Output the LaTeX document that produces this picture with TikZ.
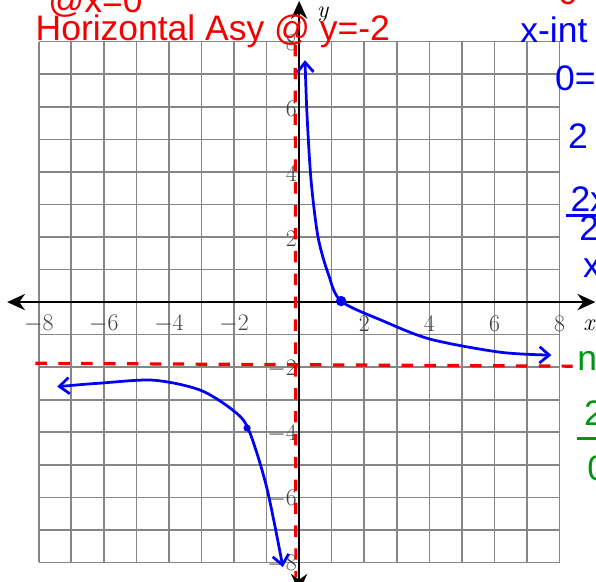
\documentclass[tikz,border=0pt]{standalone}
\usepackage{fontspec}
\usetikzlibrary{arrows.meta, positioning}
\newfontfamily\hand{Liberation Sans}
\definecolor{tinta}{RGB}{0,0,245}
\definecolor{marca}{RGB}{245,0,0}
\definecolor{verde}{RGB}{0,150,20}
\tikzset{
  rejilla/.style={gray!95, line width=1.4pt},
  eje/.style={{Stealth[length=5.5mm, width=5mm]}-{Stealth[length=5.5mm, width=5mm]}, line width=1.7pt},
  asintota/.style={marca, line width=2.8pt, dash pattern=on 10pt off 10pt},
  rama/.style={tinta, line width=2.4pt, line cap=round,
               {Straight Barb[length=3mm, width=5mm]}-{Straight Barb[length=3mm, width=5mm]}},
  nota/.style={font=\hand\fontsize{31}{31}\selectfont, inner sep=0pt},
  marcax/.style={font=\fontsize{21}{21}\selectfont, text=black!75, inner sep=1pt}
}

\begin{document}
\begin{tikzpicture}
    \useasboundingbox (-9.19,-8.57) rectangle (9.12,9.28);
    \fill[white] (-9.19,-8.57) rectangle (9.12,9.28);
    % grid and axes
    \draw[rejilla] (-8,-8) grid (8,8);
    \coordinate (xizq) at (-8.97,0);
    \coordinate (xder) at (9.1,0);
    \coordinate (yarr) at (0,9.25);
    \coordinate (yab)  at (0,-8.9);
    \draw[eje] (xizq) -- (xder);
    \draw[eje] (yab) -- (yarr);
    \node[marcax, font=\itshape\fontsize{21}{21}\selectfont, text=black] (lx) at (8.9,-0.7) {x};
    \node[marcax, font=\itshape\fontsize{21}{21}\selectfont, text=black] (ly) at (0.72,8.82) {y};
    \foreach \k in {-8,-6,-4,-2,2,4,6,8} {
      \node[marcax] (tx\k) at (\k,-0.66) {$\k$};
      \node[marcax, anchor=east] (ty\k) at (-0.03,\k-0.05) {$\k$};
    }
    % asymptotes
    \draw[asintota] (-0.12,7.9) -- (-0.1,-8.45);
    \draw[asintota] (-8.1,-1.88) -- (8.4,-1.97);
    % branches
    \draw[rama] plot[smooth] coordinates {(0.18,7.43) (0.25,5.6) (0.37,3.7) (0.58,2.0)
        (0.9,0.85) (1.29,0.03) (2.58,-0.58) (4.03,-1.14) (6.17,-1.54) (7.75,-1.63)};
    \draw[rama] plot[smooth] coordinates {(-7.43,-2.6) (-6.1,-2.49) (-4.48,-2.4) (-3.05,-2.7)
        (-2.04,-3.32) (-1.56,-3.9) (-1.0,-5.68) (-0.5,-8.14)};
    \fill[tinta] (1.29,0.03) circle (0.16);
    \fill[tinta] (-1.6,-3.87) circle (0.11);
    % notes
    \node[nota, marca, anchor=base west] (hasy) at (-8.1,8.05) {Horizontal Asy @ y=-2};
    \node[nota, marca, anchor=base west] (vasy) at (-7.71,8.9) {@x=0};
    \node[nota, marca, anchor=base west] (rtop) at (7.95,9.13) {0};
    \node[nota, tinta, anchor=base west] (xint) at (6.79,7.96) {x-int};
    \node[nota, tinta, anchor=base west] (cero) at (7.86,6.51) {0=};
    \node[nota, tinta, anchor=base west] (dos) at (8.26,4.73) {2};
    \node[nota, tinta, anchor=base west] (num) at (8.33,2.78) {2x};
    \node[nota, tinta, anchor=base west] (den) at (8.6,1.9) {2};
    \node[nota, tinta, anchor=base west] (solx) at (8.72,0.77) {x};
    \draw[tinta, line width=2.4pt] (8.2,2.67) -- (9.2,2.67);
    \node[nota, verde, anchor=base west] (nox) at (8.54,-2.09) {no};
    \node[nota, verde, anchor=base west] (vnum) at (8.75,-3.78) {2};
    \node[nota, verde, anchor=base west] (vden) at (8.85,-5.47) {0};
    \draw[verde, line width=2.4pt] (8.55,-4.18) -- (9.2,-4.18);
\end{tikzpicture}
\end{document}
